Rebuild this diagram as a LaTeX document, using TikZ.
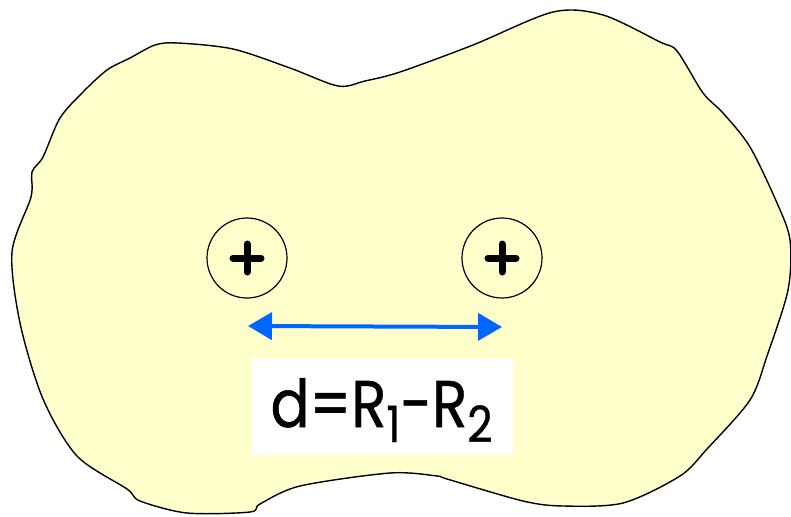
\documentclass[tikz,border=0pt]{standalone}
\usepackage{fontspec}
\setmainfont{Poppins}
\newfontfamily\labelfont{Poppins}[FakeBold=0.8]
\usetikzlibrary{arrows.meta}
\definecolor{blobfill}{RGB}{255,255,204}
\definecolor{arrowblue}{RGB}{0,102,255}
\newcommand{\lowsub}[1]{\raisebox{-15pt}{\fontsize{50}{60}\selectfont #1}}
\tikzset{
  blob/.style={draw=black, line width=1.4pt, fill=blobfill, line join=round},
  ion/.style={circle, draw=black, line width=1.2pt, minimum size=80pt, inner sep=0pt},
  plussign/.style={line width=7pt, line cap=round},
  dist/.style={draw=arrowblue, line width=4pt, {Triangle[length=24pt,width=27pt]}-{Triangle[length=24pt,width=27pt]}},
  labelbox/.style={fill=white, minimum width=261pt, minimum height=97pt, inner sep=0pt},
  labeltext/.style={inner sep=0pt, anchor=base, font=\labelfont\fontsize{66}{80}\selectfont}
}
\begin{document}
\begin{tikzpicture}[x=1pt,y=-1pt]
\useasboundingbox (0,0) rectangle (791,516);
\draw[blob] plot[smooth cycle, tension=0.5] coordinates {
 (107,70) (130,58) (155,45) (178,43) (233,49) (290,68) (338,86) (365,81) (400,72)
 (473,45) (553,12) (603,15) (660,42) (677,51) (703,93) (723,113) (750,147)
 (777,203) (790,240) (788,290) (767,356) (750,400) (707,449) (680,476)
 (623,503) (563,506) (523,501) (447,479) (437,476) (390,473) (300,486)
 (260,504) (250,512) (187,513) (140,501) (127,489) (77,456) (43,399)
 (20,323) (12,252) (31,197) (32,172) (43,157) (60,118) (83,92)};
\node[ion] (c1) at (247,258) {};
\node[ion] (c2) at (502,258) {};
\foreach \c in {c1,c2} {
  \draw[plussign] ([xshift=-14pt]\c.center) -- ([xshift=14pt]\c.center);
  \draw[plussign] ([yshift=-14pt]\c.center) -- ([yshift=14pt]\c.center);
}
\coordinate (a1) at (248,326);
\coordinate (a2) at (502,327);
\draw[dist] (a1) -- (a2);
\node[labelbox] (box) at (382.5,406.5) {};
\node[labeltext] (lbl) at (381.5,427) {\resizebox{222pt}{\height}{d=R\lowsub{1}-R\lowsub{2}}};
\end{tikzpicture}
\end{document}
